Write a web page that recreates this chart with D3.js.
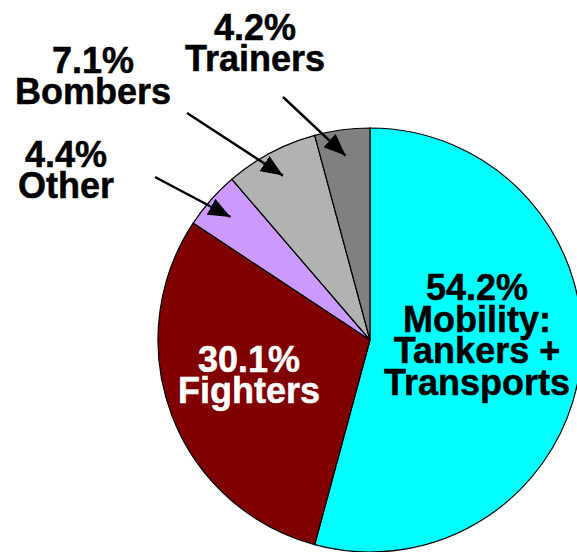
<!DOCTYPE html>
<html>
<head>
<meta charset="utf-8">
<script src="https://cdn.jsdelivr.net/npm/d3@7"></script>
<style>
  body { margin: 0; background: #fff; }
  text { font-family: "Liberation Sans", Arial, sans-serif; font-weight: bold; }
</style>
</head>
<body>
<script>
// slices, clockwise from 12 o'clock
let categories = ["Mobility", "Fighters", "Other", "Bombers", "Trainers"];
let shares = [54.2, 30.1, 4.4, 7.1, 4.2];
let labelLines = [
  ["54.2%", "Mobility:", "Tankers +", "Transports"],
  ["30.1%", "Fighters"],
  ["4.4%", "Other"],
  ["7.1%", "Bombers"],
  ["4.2%", "Trainers"]
];
let colors = ["#00FFFF", "#800000", "#CC99FF", "#B2B2B2", "#808080"];
let textColors = ["#000", "#fff", "#000", "#000", "#000"];

// layout: label block center (relative to pie center), arrow start for outside labels
let layout = {
  Mobility: { x: 107, y: -5, arrow: null },
  Fighters: { x: -121, y: 35, arrow: null },
  Other:    { x: -304, y: -170, arrow: [-215, -163] },
  Bombers:  { x: -277, y: -264, arrow: [-183, -227] },
  Trainers: { x: -115, y: -297, arrow: [-87, -243] }
};

let width = 577, height = 552;
let cx = 370, cy = 340, radius = 212;
let fontSize = 36, lineH = 31.5;

let svg = d3.select("body").append("svg")
  .attr("width", width)
  .attr("height", height);

svg.append("defs").append("marker")
  .attr("id", "head")
  .attr("markerUnits", "userSpaceOnUse")
  .attr("markerWidth", 24)
  .attr("markerHeight", 18)
  .attr("refX", 22)
  .attr("refY", 9)
  .attr("orient", "auto")
.append("path")
  .attr("d", "M0,0 L22,9 L0,18 Z")
  .attr("fill", "#000");

let g = svg.append("g")
  .attr("transform", "translate(" + cx + "," + cy + ")");

let data = categories.map((c, i) => ({
  name: c, value: shares[i], lines: labelLines[i], color: colors[i], tc: textColors[i]
}));

let pie = d3.pie().sort(null).value(d => d.value);
let arc = d3.arc().innerRadius(0).outerRadius(radius);
let tipArc = d3.arc().innerRadius(186).outerRadius(186);

let arcs = pie(data);

g.selectAll("path.slice")
  .data(arcs)
  .enter().append("path")
  .attr("class", "slice")
  .attr("d", arc)
  .attr("fill", d => d.data.color)
  .attr("stroke", "#000")
  .attr("stroke-width", 1.2);

// arrows for small slices
arcs.filter(d => layout[d.data.name].arrow).forEach(d => {
  let tip = tipArc.centroid(d);
  let start = layout[d.data.name].arrow;
  g.append("line")
    .attr("x1", start[0]).attr("y1", start[1])
    .attr("x2", tip[0]).attr("y2", tip[1])
    .attr("stroke", "#000")
    .attr("stroke-width", 2.5)
    .attr("marker-end", "url(#head)");
});

// labels, one text per line
arcs.forEach(d => {
  let pos = layout[d.data.name];
  let n = d.data.lines.length;
  d.data.lines.forEach((line, i) => {
    g.append("text")
      .attr("text-anchor", "middle")
      .attr("font-size", fontSize)
      .attr("fill", d.data.tc)
      .attr("stroke", d.data.tc)
      .attr("stroke-width", 0.5)
      .attr("x", pos.x)
      .attr("y", pos.y + (i - (n - 1) / 2) * lineH + fontSize * 0.35)
      .text(line);
  });
});
</script>
</body>
</html>
